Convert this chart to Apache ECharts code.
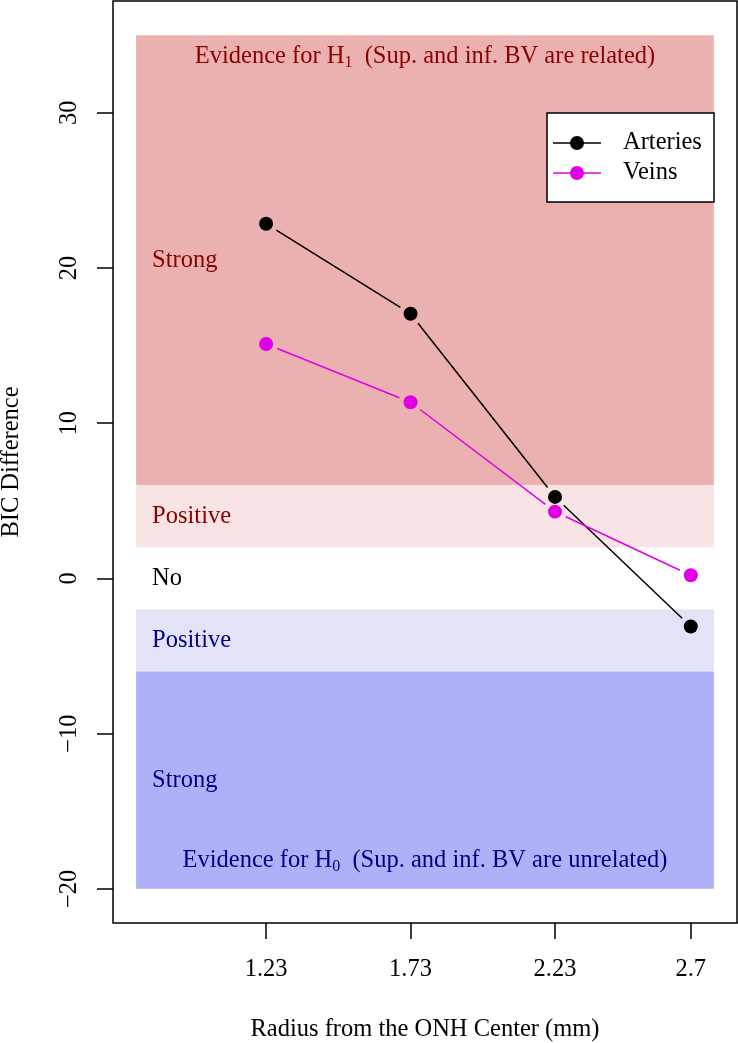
<!DOCTYPE html>
<html>
<head>
<meta charset="utf-8">
<script src="https://cdn.jsdelivr.net/npm/echarts@6/dist/echarts.min.js"></script>
<style>html,body{margin:0;padding:0;background:#fff}#c{width:738px;height:1043px}</style>
</head>
<body>
<div id="c"></div>
<script>
// ---- data ----
const radius = [1.23, 1.73, 2.23, 2.7];
const arteries = [22.85, 17.05, 5.25, -3.1];
const veins = [15.1, 11.35, 4.3, 0.2];
const xTicks = [1.23, 1.73, 2.23, 2.7];
const xTickLabels = ['1.23', '1.73', '2.23', '2.7'];
const yTicks = [-20, -10, 0, 10, 20, 30];
const bandLow = [6, 2, -6, -20];
const bandHigh = [35, 6, -2, -6];
const bandX = [0.78, 2.78];
const annoText = ['Strong', 'Positive', 'No', 'Positive', 'Strong'];
const annoY = [20.5, 4, 0, -4, -13];
const evidenceY = [33.6, -18.2];

const FONT = 'Liberation Serif';
const FS = 24.5;
const bandColors = ['#EBB0B0', '#F8E4E4', '#E3E3F8', '#B0B0F8'];
const annoColors = ['#8B0000', '#8B0000', '#000000', '#00008B', '#00008B'];
const MAG = '#E100E6';

function segments(xs, ys) {
  const out = [];
  for (let i = 0; i < xs.length - 1; i++) out.push([xs[i], ys[i], xs[i + 1], ys[i + 1]]);
  return out;
}
function segRender(color) {
  return function (params, api) {
    const p1 = api.coord([api.value(0), api.value(1)]);
    const p2 = api.coord([api.value(2), api.value(3)]);
    const dx = p2[0] - p1[0], dy = p2[1] - p1[1];
    const L = Math.hypot(dx, dy);
    const g = 12;
    if (L < 2 * g) return;
    const ux = dx / L, uy = dy / L;
    return {
      type: 'line',
      shape: { x1: p1[0] + ux * g, y1: p1[1] + uy * g, x2: p2[0] - ux * g, y2: p2[1] - uy * g },
      style: { stroke: color, lineWidth: 1.5 }
    };
  };
}

const chart = echarts.init(document.getElementById('c'));
const markData = bandLow.map((lo, i) => [
  { xAxis: bandX[0], yAxis: lo, itemStyle: { color: bandColors[i], opacity: 1 } },
  { xAxis: bandX[1], yAxis: bandHigh[i] }
]);
const annoData = annoText.map((t, i) => ({
  value: [bandX[0], annoY[i]],
  label: { formatter: t, color: annoColors[i] }
}));
const evData = [
  { value: [(bandX[0] + bandX[1]) / 2, evidenceY[0]],
    label: { formatter: '{t|Evidence for H}{s|1}{t|  (Sup. and inf. BV are related)}', color: '#8B0000' } },
  { value: [(bandX[0] + bandX[1]) / 2, evidenceY[1]],
    label: { formatter: '{t|Evidence for H}{s|0}{t|  (Sup. and inf. BV are unrelated)}', color: '#00008B' } }
];

const option = {
  animation: false,
  backgroundColor: '#fff',
  textStyle: { fontFamily: FONT },
  grid: { left: 113, right: 1, top: 1, bottom: 120, show: true, borderColor: '#000', borderWidth: 1.5,
          backgroundColor: 'transparent', outerBoundsMode: 'none', containLabel: false },
  xAxis: {
    type: 'value', min: 0.70, max: 2.86,
    axisLine: { show: false, onZero: false },
    splitLine: { show: false },
    axisTick: { show: true, length: 16, inside: false, customValues: xTicks, lineStyle: { color: '#000', width: 1.5 } },
    axisLabel: { customValues: xTicks, formatter: v => { const k = xTicks.indexOf(v); return k >= 0 ? xTickLabels[k] : String(v); },
                 fontSize: FS, color: '#000', fontFamily: FONT, margin: 34 },
    name: 'Radius from the ONH Center (mm)', nameLocation: 'middle', nameGap: 94,
    nameTextStyle: { fontSize: FS, color: '#000', fontFamily: FONT }
  },
  yAxis: {
    type: 'value', min: -22.2, max: 37.2,
    axisLine: { show: false, onZero: false },
    splitLine: { show: false },
    axisTick: { show: true, length: 16, inside: false, customValues: yTicks, lineStyle: { color: '#000', width: 1.5 } },
    axisLabel: { customValues: yTicks, rotate: 90, fontSize: FS, color: '#000', fontFamily: FONT, margin: 31,
                 formatter: v => (v < 0 ? '\u2212' + Math.abs(v) : String(v)) },
    name: 'BIC Difference', nameLocation: 'middle', nameRotate: 90, nameGap: 89,
    nameTextStyle: { fontSize: FS, color: '#000', fontFamily: FONT }
  },
  series: [
    { type: 'line', data: [], z: 1, silent: true,
      markArea: { silent: true, data: markData } },
    { type: 'custom', z: 3, renderItem: segRender('#000'), encode: { x: [0, 2], y: [1, 3] },
      data: segments(radius, arteries), silent: true },
    { type: 'custom', z: 3, renderItem: segRender(MAG), encode: { x: [0, 2], y: [1, 3] },
      data: segments(radius, veins), silent: true },
    { type: 'scatter', z: 4, symbol: 'circle', symbolSize: 14, itemStyle: { color: '#000', opacity: 1 },
      data: radius.map((x, i) => [x, arteries[i]]), silent: true },
    { type: 'scatter', z: 4, symbol: 'circle', symbolSize: 14, itemStyle: { color: MAG, opacity: 1 },
      data: radius.map((x, i) => [x, veins[i]]), silent: true },
    { type: 'scatter', z: 5, symbolSize: 0, silent: true, itemStyle: { opacity: 1 },
      label: { show: true, position: 'right', distance: 16, fontSize: FS, fontFamily: FONT, opacity: 1 },
      data: annoData },
    { type: 'scatter', z: 5, symbolSize: 0, silent: true, itemStyle: { opacity: 1 },
      label: { show: true, position: 'inside', fontSize: FS, fontFamily: FONT, opacity: 1,
               rich: { t: { fontSize: FS, fontFamily: FONT }, s: { fontSize: 16, fontFamily: FONT, padding: [12, 0, 0, 0] } } },
      data: evData }
  ],
  graphic: [
    { type: 'rect', shape: { x: 547, y: 113, width: 167, height: 89 }, style: { fill: '#fff', stroke: '#000', lineWidth: 1.5 }, z: 10 },
    { type: 'line', shape: { x1: 553, y1: 143, x2: 601, y2: 143 }, style: { stroke: '#000', lineWidth: 1.5 }, z: 11 },
    { type: 'circle', shape: { cx: 577, cy: 143, r: 7 }, style: { fill: '#000' }, z: 12 },
    { type: 'text', x: 623, y: 143, style: { text: 'Arteries', font: FS + 'px "Liberation Serif"', fill: '#000', verticalAlign: 'middle' }, z: 12 },
    { type: 'line', shape: { x1: 553, y1: 173, x2: 601, y2: 173 }, style: { stroke: MAG, lineWidth: 1.5 }, z: 11 },
    { type: 'circle', shape: { cx: 577, cy: 173, r: 7 }, style: { fill: MAG }, z: 12 },
    { type: 'text', x: 623, y: 173, style: { text: 'Veins', font: FS + 'px "Liberation Serif"', fill: '#000', verticalAlign: 'middle' }, z: 12 }
  ]
};
chart.setOption(option);
</script>
</body>
</html>
